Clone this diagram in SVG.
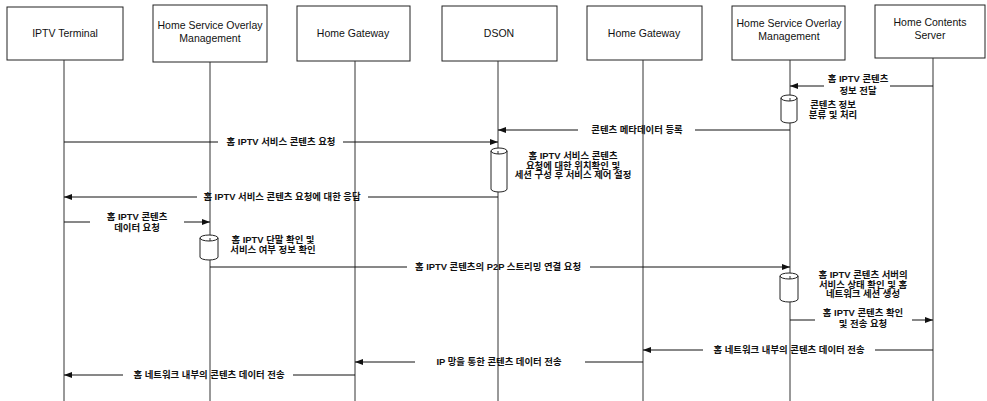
<svg xmlns="http://www.w3.org/2000/svg" width="987" height="401" viewBox="0 0 987 401">
<style>
.box{fill:#fff;stroke:#222;stroke-width:1}
.hd{font-family:"Liberation Sans",Arial,sans-serif;font-size:10.5px;fill:#111;text-anchor:middle}
.life{stroke:#333;stroke-width:1;fill:none}
.msg{stroke:#111;stroke-width:1;fill:none;marker-end:url(#ah)}
.lbl{font-family:"Liberation Sans","Noto Sans CJK KR",sans-serif;font-size:9.4px;font-weight:bold;fill:#111;text-anchor:middle}
.act{fill:#fff;stroke:#222;stroke-width:1}
</style>
<defs>
<marker id="ah" markerWidth="8" markerHeight="6" refX="8" refY="3" orient="auto" markerUnits="userSpaceOnUse">
<path d="M0,0 L8,3 L0,6 z" fill="#111"/>
</marker>
</defs>
<rect width="987" height="401" fill="#fff"/>

<g id="n-iptv">
<rect class="box" x="7" y="7" width="116" height="53"/>
<text class="hd" x="65" y="37">IPTV Terminal</text>
<line class="life" x1="64" y1="60" x2="64" y2="401"/>
</g>
<g id="n-hsom1">
<rect class="box" x="153" y="5" width="114" height="57"/>
<text class="hd" x="210" y="29">Home Service Overlay</text>
<text class="hd" x="210" y="42">Management</text>
<line class="life" x1="210" y1="62" x2="210" y2="401"/>
</g>
<g id="n-hg1">
<rect class="box" x="297" y="6" width="113" height="55"/>
<text class="hd" x="353" y="37">Home Gateway</text>
<line class="life" x1="355" y1="61" x2="355" y2="401"/>
</g>
<g id="n-dson">
<rect class="box" x="442" y="6" width="115" height="55"/>
<text class="hd" x="499" y="37">DSON</text>
<line class="life" x1="498" y1="61" x2="498" y2="401"/>
</g>
<g id="n-hg2">
<rect class="box" x="587" y="6" width="115" height="54"/>
<text class="hd" x="644" y="37">Home Gateway</text>
<line class="life" x1="643" y1="60" x2="643" y2="401"/>
</g>
<g id="n-hsom2">
<rect class="box" x="732" y="6" width="113" height="54"/>
<text class="hd" x="789" y="27">Home Service Overlay</text>
<text class="hd" x="789" y="40">Management</text>
<line class="life" x1="790" y1="60" x2="790" y2="401"/>
</g>
<g id="n-hcs">
<rect class="box" x="875" y="5" width="110" height="53"/>
<text class="hd" x="930" y="26">Home Contents</text>
<text class="hd" x="930" y="39">Server</text>
<line class="life" x1="933" y1="58" x2="933" y2="401"/>
</g>

<g id="activations">
<g id="act1"><path class="act" d="M781,98 A8,3 0 0 1 797,98 V120 A8,3 0 0 1 781,120 Z M781,98 A8,3 0 0 0 797,98"/>
<text class="lbl" x="833" y="108">콘텐츠 정보</text><text class="lbl" x="833" y="118">분류 및 처리</text></g>
<g id="act2"><path class="act" d="M491,151 A8,3 0 0 1 507,151 V189 A8,3 0 0 1 491,189 Z M491,151 A8,3 0 0 0 507,151"/>
<text class="lbl" x="573" y="159">홈 IPTV 서비스 콘텐츠</text><text class="lbl" x="573" y="168.5">요청에 대한 위치확인 및</text><text class="lbl" x="573" y="178">세션 구성 후 서비스 제어 설정</text></g>
<g id="act3"><path class="act" d="M200,238 A9,3 0 0 1 218,238 V257 A9,3 0 0 1 200,257 Z M200,238 A9,3 0 0 0 218,238"/>
<text class="lbl" x="273" y="243">홈 IPTV 단말 확인 및</text><text class="lbl" x="273" y="253">서비스 여부 정보 확인</text></g>
<g id="act4"><path class="act" d="M780,276 A9,3 0 0 1 798,276 V299 A9,3 0 0 1 780,299 Z M780,276 A9,3 0 0 0 798,276"/>
<text class="lbl" x="863" y="278">홈 IPTV 콘텐츠 서버의</text><text class="lbl" x="863" y="287.5">서비스 상태 확인 및 홈</text><text class="lbl" x="863" y="297">네트워크 세션 생성</text></g>
</g>

<g id="connectors">
<path class="msg" d="M933,86 H890 M824,86 H790"/>
<path class="msg" d="M790,130 H695 M578,130 H498"/>
<path class="msg" d="M64,142 H218 M343,142 H498"/>
<path class="msg" d="M498,197 H368 M197,197 H64"/>
<path class="msg" d="M64,222 H90 M184,222 H210"/>
<path class="msg" d="M210,267 H407 M590,267 H790"/>
<path class="msg" d="M790,320 H815 M912,320 H933"/>
<path class="msg" d="M933,350 H875 M703,350 H643"/>
<path class="msg" d="M643,362 H585 M415,362 H355"/>
<path class="msg" d="M355,375 H293 M123,375 H64"/>
</g>

<g id="labels">
<text class="lbl" x="858" y="82">홈 IPTV 콘텐츠</text><text class="lbl" x="858" y="94">정보 전달</text>
<text class="lbl" x="637" y="133">콘텐츠 메타데이터 등록</text>
<text class="lbl" x="281" y="145">홈 IPTV 서비스 콘텐츠 요청</text>
<text class="lbl" x="282" y="200">홈 IPTV 서비스 콘텐츠 요청에 대한 응답</text>
<text class="lbl" x="137" y="220">홈 IPTV 콘텐츠</text><text class="lbl" x="137" y="231">데이터 요청</text>
<text class="lbl" x="498" y="270">홈 IPTV 콘텐츠의 P2P 스트리밍 연결 요청</text>
<text class="lbl" x="863" y="316">홈 IPTV 콘텐츠 확인</text><text class="lbl" x="863" y="327">및 전송 요청</text>
<text class="lbl" x="789" y="353">홈 네트워크 내부의 콘텐츠 데이터 전송</text>
<text class="lbl" x="499" y="365">IP 망을 통한 콘텐츠 데이터 전송</text>
<text class="lbl" x="209" y="378">홈 네트워크 내부의 콘텐츠 데이터 전송</text>
</g>
</svg>
